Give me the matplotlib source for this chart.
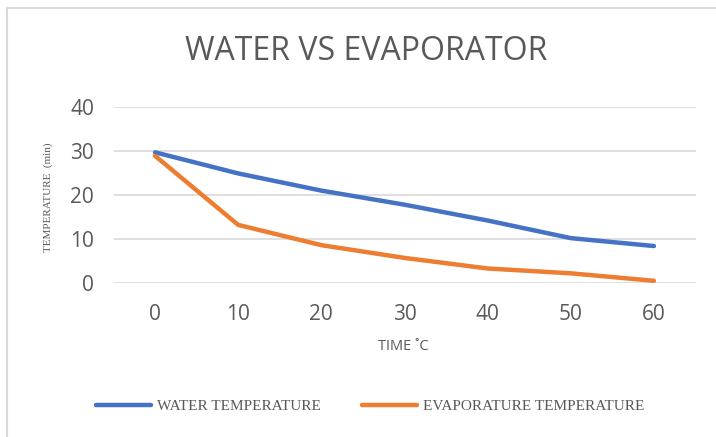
import matplotlib
matplotlib.use("Agg")
import matplotlib.pyplot as plt
from matplotlib.lines import Line2D

times = [0, 10, 20, 30, 40, 50, 60]
water_temp = [29.7, 24.9, 21.0, 17.8, 14.2, 10.2, 8.4]
evap_temp = [28.9, 13.2, 8.6, 5.7, 3.3, 2.2, 0.5]
y_ticks = [0, 10, 20, 30, 40]

BLUE, ORANGE, GRID, TXT = "#4472c4", "#ed7d31", "#d9d9d9", "#595959"

fig = plt.figure(figsize=(7.16, 4.37), dpi=100, facecolor="white")
W, H = 716, 437
ax = fig.add_axes([113.5 / W, 1 - 283 / H, (695.5 - 113.5) / W, (283 - 107) / H])

idx = list(range(len(times)))
ax.plot(idx, water_temp, color=BLUE, lw=3.2, solid_capstyle="round", solid_joinstyle="round", zorder=3)
ax.plot(idx, evap_temp, color=ORANGE, lw=3.2, solid_capstyle="round", solid_joinstyle="round", zorder=3)

ax.set_xlim(-0.5, len(times) - 0.5)
ax.set_ylim(0, 40)
ax.set_xticks(idx)
ax.set_xticklabels([str(t) for t in times])
ax.set_yticks(y_ticks)
ax.grid(axis="y", color=GRID, lw=1.2, zorder=0)
ax.tick_params(length=0, labelsize=15, colors=TXT)
ax.tick_params(axis="y", pad=14)
ax.tick_params(axis="x", pad=15)
for s in ax.spines.values():
    s.set_visible(False)
for lab in ax.get_xticklabels() + ax.get_yticklabels():
    lab.set_family("Open Sans")

fig.text(366 / W, 1 - 52 / H, "WATER VS EVAPORATOR", ha="center", va="center",
         fontsize=23, color=TXT, family="Open Sans")
fig.text(48 / W, 1 - 197 / H, "TEMPERATURE  (min)", rotation=90, ha="center", va="center",
         fontsize=8, color=TXT, family="Liberation Serif")
fig.text(403 / W, 1 - 347 / H, "TIME ˚C", ha="center", va="center",
         fontsize=10.5, color=TXT, family="Open Sans")

# legend
handles = [Line2D([], [], color=BLUE, lw=3.2, solid_capstyle="round"),
           Line2D([], [], color=ORANGE, lw=3.2, solid_capstyle="round")]
fig.legend(handles, ["WATER TEMPERATURE", "EVAPORATURE TEMPERATURE"], loc="center",
           bbox_to_anchor=(370 / W, 1 - 406 / H), ncol=2, frameon=False,
           handlelength=3.6, handletextpad=0.4, columnspacing=2.7,
           prop={"family": "Liberation Serif", "size": 11}, labelcolor=TXT)

# chart frame
fig.add_artist(Line2D([7.5 / W, 7.5 / W], [0, 1 - 7.5 / H], color=GRID, lw=1.5))
fig.add_artist(Line2D([7.5 / W, 1], [1 - 7.5 / H, 1 - 7.5 / H], color=GRID, lw=1.5))

fig.savefig("out.png", dpi=100, facecolor="white")
